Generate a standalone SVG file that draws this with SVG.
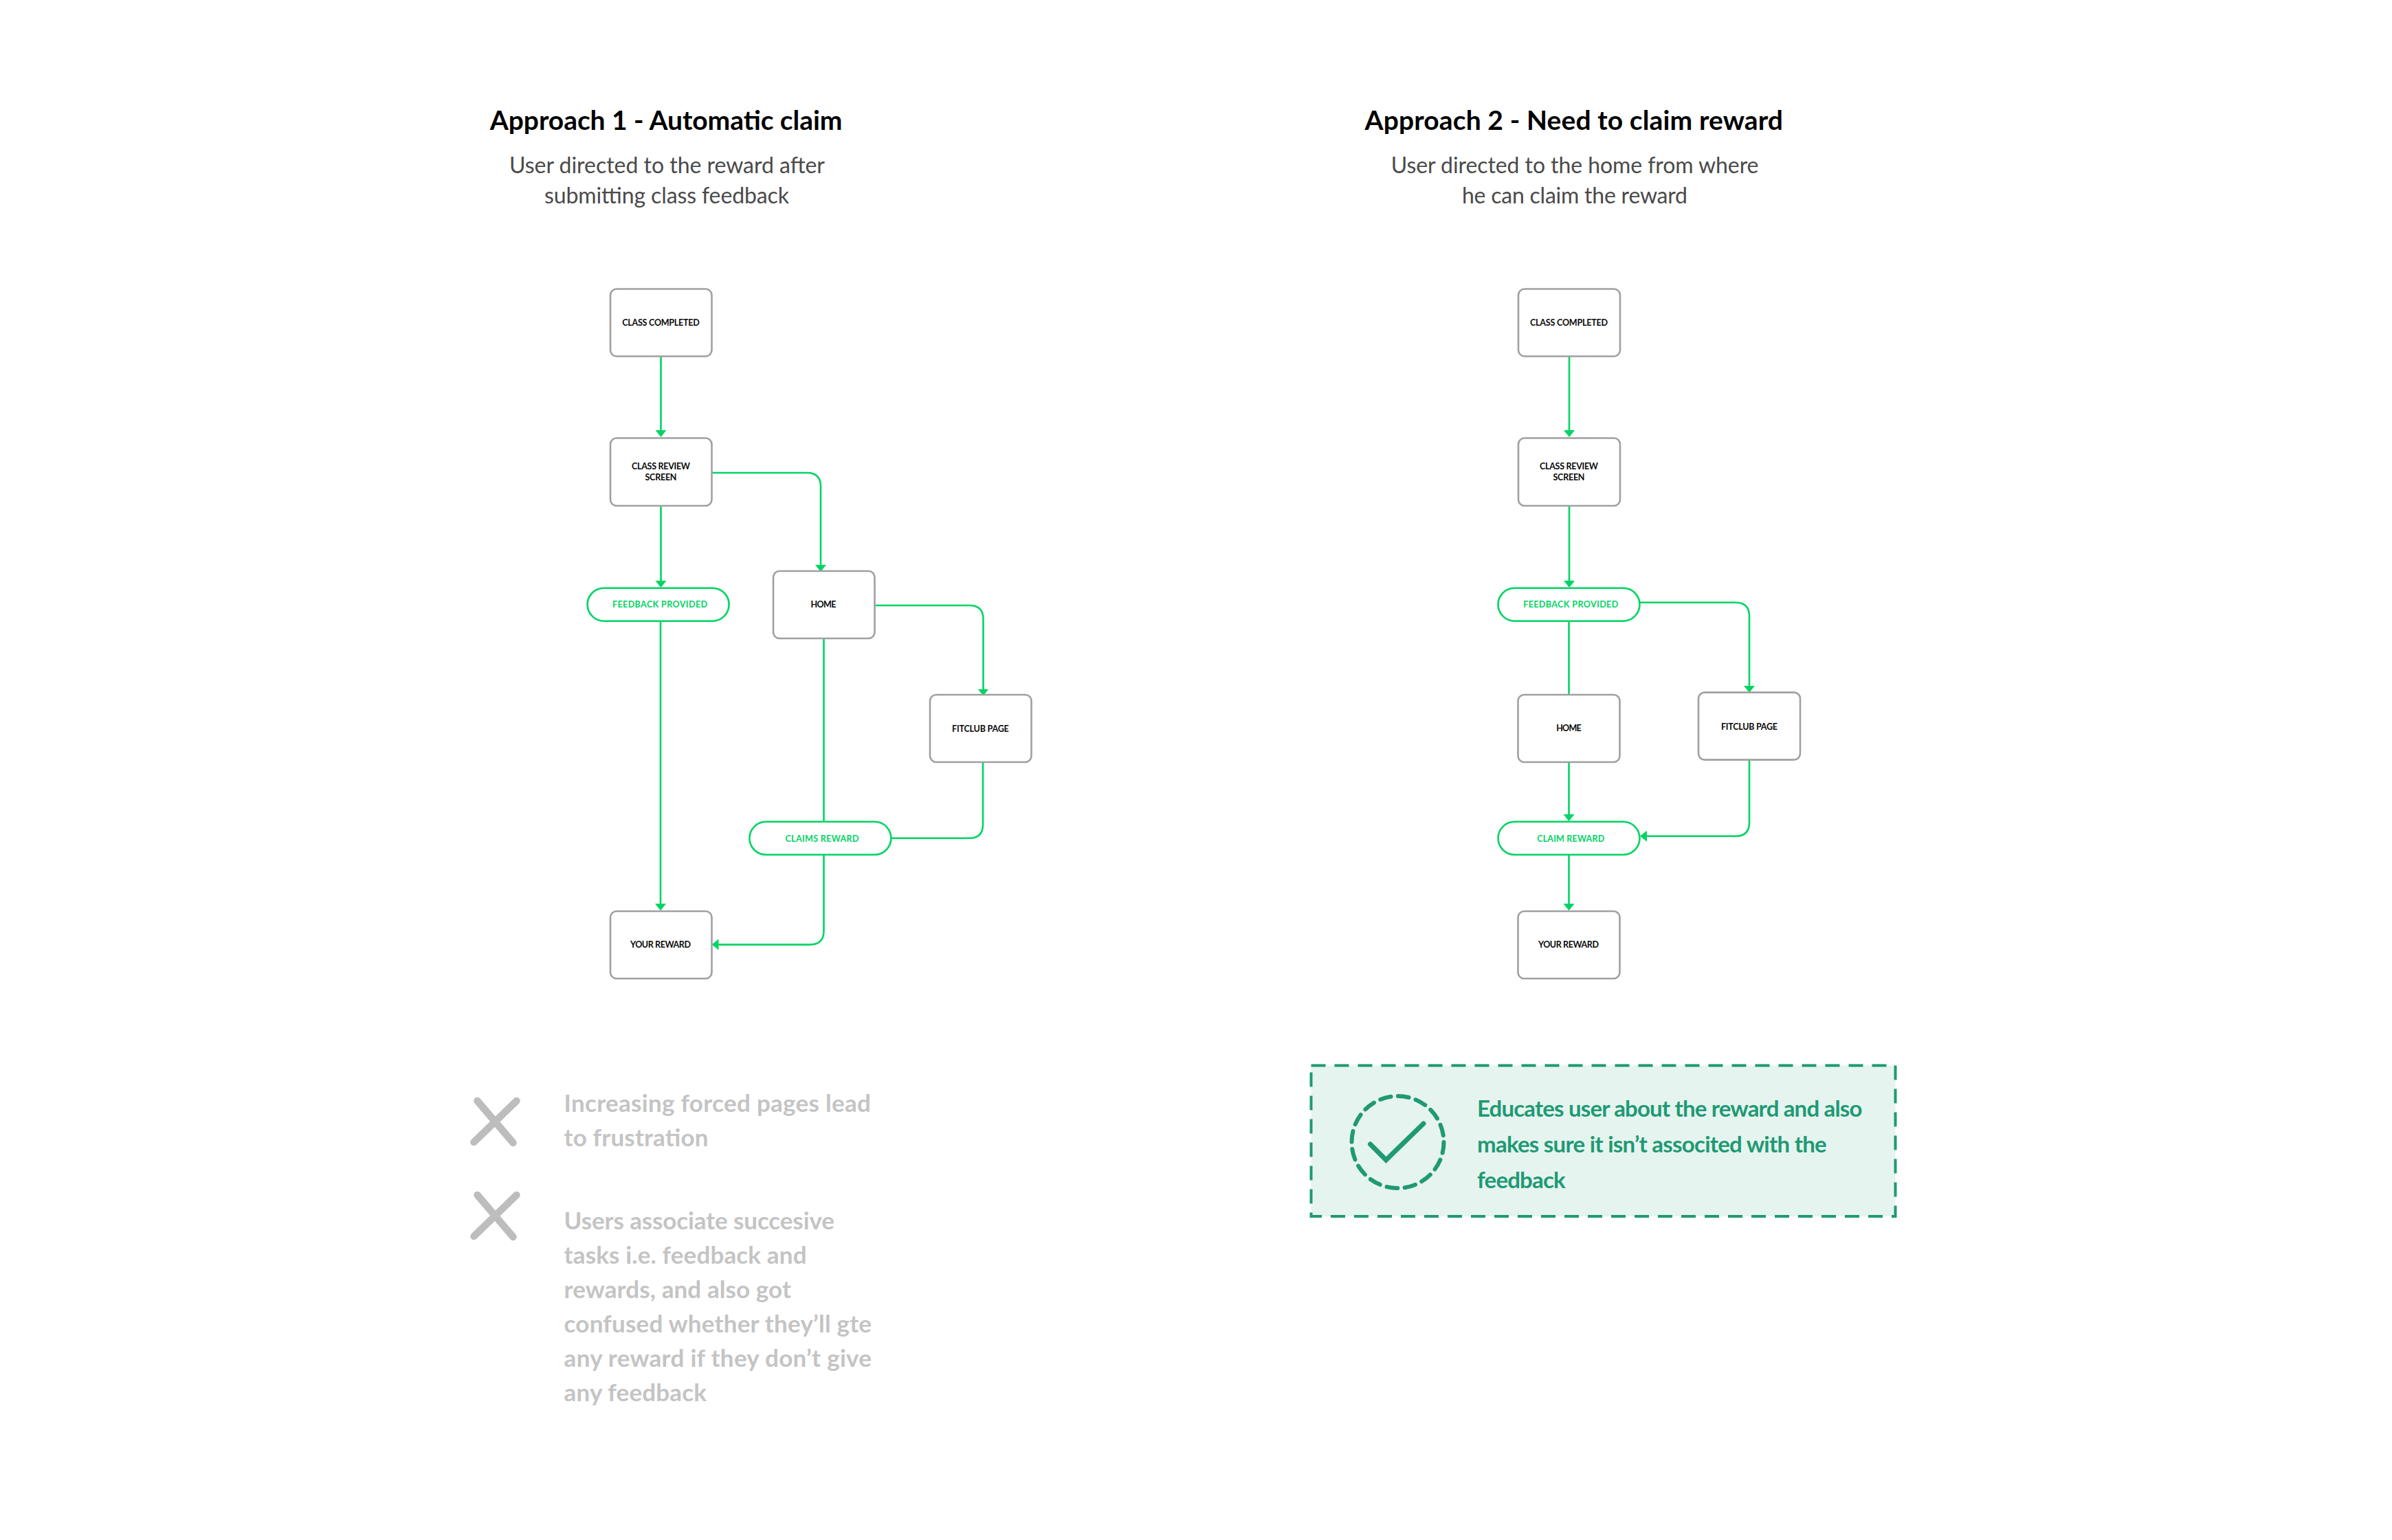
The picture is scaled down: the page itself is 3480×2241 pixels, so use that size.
<svg xmlns="http://www.w3.org/2000/svg" width="3480" height="2241" viewBox="0 0 3480 2241">
<style>
text{font-family:"Lato","Noto Sans","Liberation Sans",sans-serif}
.box{fill:#fff;stroke:#a0a0a0;stroke-width:2.6}
.pill{fill:#fff;stroke:#00d563;stroke-width:2.6}
.edge{fill:none;stroke:#00d563;stroke-width:2.6}
.lbl{font-size:12.5px;font-weight:700;fill:#0a0a0a;text-anchor:middle}
.plbl{font-size:12.5px;font-weight:700;fill:#00d563;text-anchor:middle}
.title{font-size:39px;font-weight:700;fill:#000}
.sub{font-size:32px;fill:#4a4a4a}
.grey{font-size:35px;font-weight:700;fill:#c4c4c4}
.good{font-size:33px;font-weight:700;fill:#1f9a73}
.x{fill:none;stroke:#bdbdbd;stroke-width:10.5;stroke-linecap:round}
</style>
<defs>
<marker id="arrow" markerUnits="userSpaceOnUse" markerWidth="12" markerHeight="18" refX="8" refY="8.5" orient="auto">
<path d="M0 0.5L10 8.5L0 16.5Z" fill="#00d563"/>
</marker>
</defs>
<rect width="3480" height="2241" fill="#fff"/>

<g id="headings">
<text class="title" x="712.8" y="189" textLength="512.6">Approach 1 - Automatic claim</text>
<text class="sub" x="741" y="251.5" textLength="459">User directed to the reward after</text>
<text class="sub" x="792" y="295.5" textLength="356">submitting class feedback</text>
<text class="title" x="1985.5" y="189" textLength="608.5">Approach 2 - Need to claim reward</text>
<text class="sub" x="2023.8" y="251.5" textLength="534.7">User directed to the home from where</text>
<text class="sub" x="2127" y="295.5" textLength="328">he can claim the reward</text>
</g>

<g id="connectors">
<path class="edge" marker-end="url(#arrow)" d="M961.5 518V634"/>
<path class="edge" marker-end="url(#arrow)" d="M961.5 736V853"/>
<path class="edge" marker-end="url(#arrow)" d="M1035.5 688H1174Q1194 688 1194 708V830"/>
<path class="edge" marker-end="url(#arrow)" d="M961 905V1323"/>
<path class="edge" marker-end="url(#arrow)" d="M1272.5 881H1410.5Q1430.5 881 1430.5 901V1010.5"/>
<path class="edge" d="M1198.5 929V1196"/>
<path class="edge" d="M1430 1109V1199.8Q1430 1219.8 1410 1219.8H1296.6"/>
<path class="edge" marker-end="url(#arrow)" d="M1198.5 1244V1354.6Q1198.5 1374.6 1178.5 1374.6H1037.5"/>
<path class="edge" marker-end="url(#arrow)" d="M2283 518V634"/>
<path class="edge" marker-end="url(#arrow)" d="M2283 736V853"/>
<path class="edge" d="M2282.5 904V1011"/>
<path class="edge" marker-end="url(#arrow)" d="M2385.5 876.8H2525Q2545 876.8 2545 896.8V1006"/>
<path class="edge" marker-end="url(#arrow)" d="M2282.5 1109V1193"/>
<path class="edge" marker-end="url(#arrow)" d="M2545 1106V1196.8Q2545 1216.8 2525 1216.8H2388"/>
<path class="edge" marker-end="url(#arrow)" d="M2282.5 1244V1323"/>
</g>

<g id="a1-class-completed"><rect class="box" x="888" y="420.5" width="147.5" height="98" rx="9"/><text class="lbl" x="961.5" y="473.5" textLength="112.5">CLASS COMPLETED</text></g>
<g id="a1-class-review"><rect class="box" x="888" y="637.5" width="147.5" height="98.5" rx="9"/><text class="lbl" x="961.5" y="682.6" textLength="85">CLASS REVIEW</text><text class="lbl" x="961.5" y="699" textLength="46">SCREEN</text></g>
<g id="a1-feedback"><rect class="pill" x="854.6" y="855.7" width="206" height="48" rx="24"/><text class="plbl" x="960" y="884.3" textLength="138">FEEDBACK PROVIDED</text></g>
<g id="a1-home"><rect class="box" x="1125" y="831" width="147.5" height="98" rx="9"/><text class="lbl" x="1198" y="884.2" textLength="37">HOME</text></g>
<g id="a1-fitclub"><rect class="box" x="1353" y="1011" width="147.5" height="98" rx="9"/><text class="lbl" x="1426.4" y="1064.8" textLength="82.6">FITCLUB PAGE</text></g>
<g id="a1-claims"><rect class="pill" x="1090.4" y="1195.8" width="206" height="48" rx="24"/><text class="plbl" x="1196" y="1224.6" textLength="107">CLAIMS REWARD</text></g>
<g id="a1-your-reward"><rect class="box" x="888" y="1326" width="147.5" height="98" rx="9"/><text class="lbl" x="961" y="1379.4" textLength="88">YOUR REWARD</text></g>

<g id="a2-class-completed"><rect class="box" x="2209" y="420.5" width="148" height="98" rx="9"/><text class="lbl" x="2282.5" y="473.5" textLength="113">CLASS COMPLETED</text></g>
<g id="a2-class-review"><rect class="box" x="2209" y="637.5" width="148" height="98.5" rx="9"/><text class="lbl" x="2282.5" y="682.6" textLength="85">CLASS REVIEW</text><text class="lbl" x="2282.5" y="699" textLength="46">SCREEN</text></g>
<g id="a2-feedback"><rect class="pill" x="2179.5" y="855.7" width="206" height="48" rx="24"/><text class="plbl" x="2285.2" y="884.3" textLength="138">FEEDBACK PROVIDED</text></g>
<g id="a2-home"><rect class="box" x="2208.5" y="1011" width="148" height="98" rx="9"/><text class="lbl" x="2282.4" y="1064.4" textLength="36.5">HOME</text></g>
<g id="a2-fitclub"><rect class="box" x="2471" y="1007.6" width="148" height="98" rx="9"/><text class="lbl" x="2545" y="1061.5" textLength="82">FITCLUB PAGE</text></g>
<g id="a2-claim"><rect class="pill" x="2179.5" y="1195.8" width="206" height="48" rx="24"/><text class="plbl" x="2285.2" y="1224.6" textLength="98">CLAIM REWARD</text></g>
<g id="a2-your-reward"><rect class="box" x="2208.5" y="1326" width="148" height="98" rx="9"/><text class="lbl" x="2282" y="1379.4" textLength="88">YOUR REWARD</text></g>

<g id="cons">
<path class="x" d="M694.5 1602L746.5 1663M751.5 1602L689.5 1662"/>
<path class="x" d="M694.5 1739L746.5 1800M751.5 1739L689.5 1799"/>
<text class="grey" x="820.6" y="1617.7" textLength="446.3">Increasing forced pages lead</text>
<text class="grey" x="820.6" y="1667.8" textLength="209.8">to frustration</text>
<text class="grey" x="820.6" y="1788.5" textLength="393.3">Users associate succesive</text>
<text class="grey" x="820.6" y="1838.8" textLength="352.9">tasks i.e. feedback and</text>
<text class="grey" x="820.6" y="1889" textLength="330.4">rewards, and also got</text>
<text class="grey" x="820.6" y="1939" textLength="447.4">confused whether they’ll gte</text>
<text class="grey" x="820.6" y="1989" textLength="447.4">any reward if they don’t give</text>
<text class="grey" x="820.6" y="2039.3" textLength="207.4">any feedback</text>
</g>

<g id="benefit">
<rect x="1907.5" y="1550.5" width="850" height="219.5" fill="#e6f4f0" stroke="#1f9a73" stroke-width="4" stroke-dasharray="21 13"/>
<circle cx="2033.5" cy="1662" r="67" fill="none" stroke="#1f9a73" stroke-width="6" stroke-dasharray="16 10.3" stroke-linecap="round"/>
<path d="M1993.5 1665L2016.5 1688L2071 1635" fill="none" stroke="#1f9a73" stroke-width="7" stroke-linecap="round"/>
<text class="good" x="2149" y="1624.5" textLength="560.4">Educates user about the reward and also</text>
<text class="good" x="2149" y="1676.8" textLength="508.7">makes sure it isn’t associted with the</text>
<text class="good" x="2149" y="1728.5" textLength="128.7">feedback</text>
</g>
</svg>
